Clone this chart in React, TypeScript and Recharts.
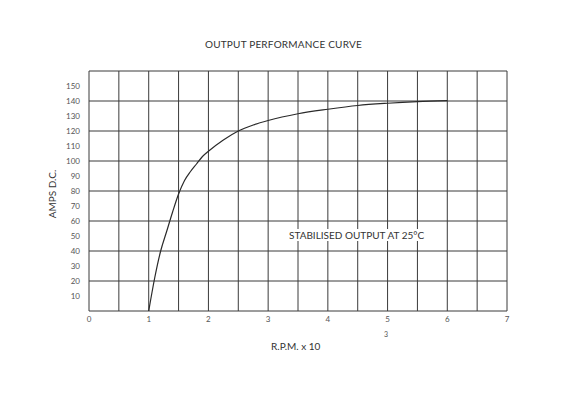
import { Line, LineChart, ReferenceLine, XAxis, YAxis } from 'recharts'

// R.P.M. x 10^3 vs amps
const rpm = [1, 1.1, 1.2, 1.3, 1.4, 1.5, 1.6, 1.7, 1.8, 1.9, 2, 2.25, 2.5, 2.75, 3, 3.5, 4, 4.5, 5, 5.5, 6]
const amps = [0, 22, 40, 53, 66, 78, 87, 93, 98, 103, 106.5, 114, 120, 124, 127, 131.5, 134.5, 137, 138.5, 139.6, 140.3]

const xTicks = [0, 0.5, 1, 1.5, 2, 2.5, 3, 3.5, 4, 4.5, 5, 5.5, 6, 6.5, 7]
const yTicks = [10, 20, 30, 40, 50, 60, 70, 80, 90, 100, 110, 120, 130, 140, 150]
const xGrid = xTicks
const yGrid = [0, 20, 40, 60, 80, 100, 120, 140, 160]

const data = rpm.map((r, i) => ({ rpm: r, amps: amps[i] }))

const font = 'Lato, "DejaVu Sans", sans-serif'
const gridColor = '#3a3a3a'

export default function App() {
  return (
    <div style={{ position: 'absolute', left: 0, top: 0, width: 566, height: 400, background: '#fff', fontFamily: font }}>
      <LineChart width={566} height={400} data={data} margin={{ top: 71, right: 59, left: 0, bottom: 0 }}>
        <XAxis
          dataKey="rpm"
          type="number"
          domain={[0, 7]}
          ticks={xTicks}
          tickFormatter={(v: number) => (Number.isInteger(v) ? String(v) : '')}
          axisLine={false}
          tickLine={false}
          tickSize={0}
          tickMargin={5}
          height={89}
          tick={{ fontSize: 8, fill: '#555', fontFamily: font }}
          interval={0}
        />
        <YAxis
          type="number"
          domain={[0, 160]}
          ticks={yTicks}
          axisLine={false}
          tickLine={false}
          tickSize={0}
          tickMargin={9}
          width={89}
          tick={{ fontSize: 8, fill: '#555', fontFamily: font }}
          interval={0}
        />
        {xGrid.map((v) => (
          <ReferenceLine key={'x' + v} x={v} stroke={gridColor} strokeWidth={1} />
        ))}
        {yGrid.map((v) => (
          <ReferenceLine key={'y' + v} y={v} stroke={gridColor} strokeWidth={1} />
        ))}
        <Line
          type="monotone"
          dataKey="amps"
          stroke="#2a2a2a"
          strokeWidth={1.2}
          dot={false}
          isAnimationActive={false}
        />
      </LineChart>

      <div style={{ position: 'absolute', left: 0, width: 566, top: 38, textAlign: 'center', fontSize: 10, color: '#333', paddingLeft: 0 }}>
        <span style={{ position: 'absolute', left: 205, whiteSpace: 'nowrap', letterSpacing: 0.2 }}>OUTPUT PERFORMANCE CURVE</span>
      </div>
      <div
        style={{
          position: 'absolute',
          left: 52,
          top: 194,
          transform: 'translate(-50%, -50%) rotate(-90deg)',
          fontSize: 10,
          color: '#333',
          whiteSpace: 'nowrap',
        }}
      >
        AMPS D.C.
      </div>
      <div style={{ position: 'absolute', left: 288, top: 229, fontSize: 10, color: '#333', whiteSpace: 'nowrap', background: '#fff', padding: '0 1px' }}>
        STABILISED OUTPUT AT 25°C
      </div>
      <div style={{ position: 'absolute', left: 271, top: 340, fontSize: 10, color: '#333', whiteSpace: 'nowrap' }}>
        R.P.M. x 10
      </div>
      <div style={{ position: 'absolute', left: 384, top: 330, fontSize: 7, color: '#555' }}>3</div>
    </div>
  )
}
